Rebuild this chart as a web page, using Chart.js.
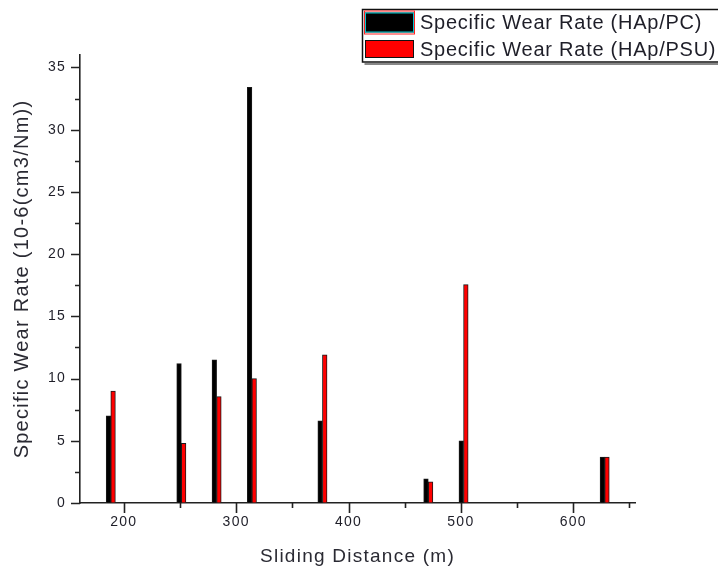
<!DOCTYPE html>
<html>
<head>
<meta charset="utf-8">
<title>Specific Wear Rate vs Sliding Distance</title>
<script src="https://cdn.jsdelivr.net/npm/chart.js@4.4.1/dist/chart.umd.min.js"></script>
<style>
  html, body { margin: 0; padding: 0; background: #ffffff; }
  #wrap { width: 718px; height: 571px; position: relative; }
</style>
</head>
<body>
<div id="wrap"><canvas id="chart" width="718" height="571"></canvas></div>
<script>
// Sliding distance (m) for each test run
const slidingDistance = [188.4, 251.2, 282.6, 314, 376.8, 471, 502.4, 628];
// Specific wear rate, 10^-6 cm3/Nm
const wearRatePC  = [7.0, 11.2, 11.5, 33.4, 6.6, 1.95, 5.0, 3.7];
const wearRatePSU = [9.0, 4.8, 8.55, 10.0, 11.9, 1.7, 17.55, 3.7];
const seriesLabels = ['Specific Wear Rate (HAp/PC)', 'Specific Wear Rate (HAp/PSU)'];
const seriesColors = ['#000000', '#ff0000'];

const FONT = "'Liberation Sans', Arial, sans-serif";
const INK = '#1e1e28';

function toPoints(values) {
  return slidingDistance.map((d, i) => ({ x: d, y: values[i] }));
}

// Outward major/minor tick marks, Origin style
const tickMarks = {
  id: 'tickMarks',
  afterDraw(chart) {
    const { ctx, chartArea, scales } = chart;
    ctx.save();
    ctx.strokeStyle = '#222';
    ctx.lineWidth = 1.6;
    ctx.beginPath();
    scales.x.ticks.forEach(t => {
      const px = Math.round(scales.x.getPixelForValue(t.value)) + 0.5;
      const len = t.value % 100 === 0 ? 10 : 5;
      ctx.moveTo(px, chartArea.bottom);
      ctx.lineTo(px, chartArea.bottom + len);
    });
    scales.y.ticks.forEach(t => {
      const py = Math.round(scales.y.getPixelForValue(t.value)) + 0.5;
      const len = t.value % 5 === 0 ? 9 : 5;
      ctx.moveTo(chartArea.left, py);
      ctx.lineTo(chartArea.left - len, py);
    });
    ctx.stroke();
    ctx.restore();
  }
};

// Wider glyph spacing for axis text
const textSpacing = {
  id: 'textSpacing',
  beforeDraw(chart) { chart.ctx.letterSpacing = '1.25px'; },
  afterDraw(chart) { chart.ctx.letterSpacing = '0px'; }
};

// Framed legend box in the upper right corner
const boxLegend = {
  id: 'boxLegend',
  afterDraw(chart) {
    const { ctx } = chart;
    const x0 = 362.5, y0 = 9.5, x1 = 722, y1 = 62;
    ctx.save();
    ctx.fillStyle = '#ffffff';
    ctx.fillRect(x0, y0, x1 - x0, y1 - y0);
    ctx.strokeStyle = '#111';
    ctx.lineWidth = 1.5;
    ctx.strokeRect(x0, y0, x1 - x0, y1 - y0);
    ctx.lineWidth = 1.2;
    ctx.beginPath();
    ctx.moveTo(x0 + 2, y1 + 2);
    ctx.lineTo(x1, y1 + 2);
    ctx.stroke();

    const rows = [
      { top: 12.5, h: 20, border: '#00c8d0', outline: '#ff2020' },
      { top: 40, h: 18, border: '#111', outline: null }
    ];
    ctx.font = '20px ' + FONT;
    ctx.letterSpacing = '0.75px';
    ctx.textBaseline = 'middle';
    ctx.textAlign = 'left';
    chart.data.datasets.forEach((ds, i) => {
      const r = rows[i];
      const sx = 365, sw = 49;
      ctx.fillStyle = ds.backgroundColor;
      ctx.fillRect(sx, r.top, sw, r.h);
      ctx.lineWidth = 1;
      ctx.strokeStyle = r.border;
      ctx.strokeRect(sx + 0.5, r.top + 0.5, sw - 1, r.h - 1);
      if (r.outline) {
        ctx.strokeStyle = r.outline;
        ctx.strokeRect(sx - 0.5, r.top - 1.5, sw + 1, r.h + 3);
      }
      ctx.fillStyle = INK;
      ctx.fillText(ds.label, 420, r.top + r.h / 2 + 1);
    });
    ctx.restore();
  }
};

new Chart(document.getElementById('chart'), {
  type: 'bar',
  data: {
    datasets: [
      {
        label: seriesLabels[0],
        data: toPoints(wearRatePC),
        backgroundColor: seriesColors[0],
        borderColor: '#1a1a1a',
        borderWidth: 1,
        barThickness: 4.6
      },
      {
        label: seriesLabels[1],
        data: toPoints(wearRatePSU),
        backgroundColor: seriesColors[1],
        borderColor: '#1a1a1a',
        borderWidth: 1,
        barThickness: 4.6
      }
    ]
  },
  options: {
    responsive: false,
    animation: false,
    devicePixelRatio: 1,
    layout: { padding: { top: 55, right: 83, left: 0, bottom: 0 } },
    plugins: {
      legend: { display: false },
      tooltip: { enabled: false }
    },
    scales: {
      x: {
        type: 'linear',
        min: 161,
        max: 655,
        offset: false,
        grid: { drawOnChartArea: false, drawTicks: false },
        border: { display: true, color: '#222', width: 1.6 },
        ticks: {
          stepSize: 50,
          includeBounds: false,
          autoSkip: false,
          maxRotation: 0,
          padding: 11,
          color: INK,
          font: { family: FONT, size: 14 },
          callback: v => (v % 100 === 0 ? String(v) : '')
        },
        title: {
          display: true,
          text: 'Sliding Distance (m)',
          color: '#2a2a33',
          font: { family: FONT, size: 19 },
          padding: { top: 0, bottom: 3 }
        },
        afterFit(scale) { scale.height = 68; }
      },
      y: {
        min: 0,
        max: 36,
        grid: { drawOnChartArea: false, drawTicks: false },
        border: { display: true, color: '#222', width: 1.6 },
        ticks: {
          stepSize: 2.5,
          includeBounds: false,
          autoSkip: false,
          padding: 14,
          color: INK,
          font: { family: FONT, size: 14 },
          callback: v => (v % 5 === 0 ? String(v) : '')
        },
        title: {
          display: true,
          text: 'Specific Wear Rate (10-6(cm3/Nm))',
          color: '#2a2a33',
          font: { family: FONT, size: 20 },
          padding: { top: 10, bottom: 0 }
        },
        afterFit(scale) { scale.width = 80; }
      }
    }
  },
  plugins: [textSpacing, tickMarks, boxLegend]
});
</script>
</body>
</html>
